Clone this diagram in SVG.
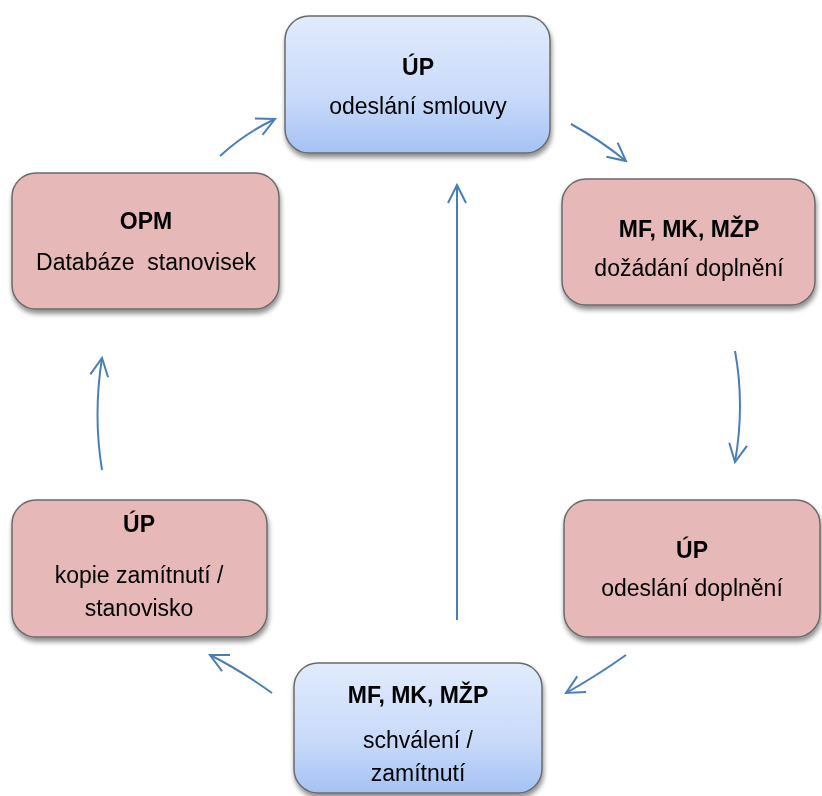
<svg xmlns="http://www.w3.org/2000/svg" width="822" height="796" viewBox="0 0 822 796">
<defs>
<linearGradient id="blueGrad" x1="0" y1="0" x2="0" y2="1">
<stop offset="0" stop-color="#e1ebfc"/>
<stop offset="0.6" stop-color="#c8daf9"/>
<stop offset="1" stop-color="#a5c2f3"/>
</linearGradient>
<filter id="shadow" x="-10%" y="-10%" width="125%" height="130%">
<feGaussianBlur in="SourceAlpha" stdDeviation="2.5"/>
<feOffset dx="1" dy="4" result="b"/>
<feComponentTransfer><feFuncA type="linear" slope="0.45"/></feComponentTransfer>
<feMerge><feMergeNode/><feMergeNode in="SourceGraphic"/></feMerge>
</filter>
<marker id="arrow" viewBox="0 0 22 22" refX="20" refY="11" markerWidth="22" markerHeight="22" markerUnits="userSpaceOnUse" orient="auto">
<path d="M2,2 L20,11 L2,20" fill="none" stroke="#4a7ebb" stroke-width="2"/>
</marker>
</defs>
<style>
.pink{fill:#e6b8b7;stroke:#6b6b6b;stroke-width:1.5}
.blue{fill:url(#blueGrad);stroke:#6b6b6b;stroke-width:1.5}
text{font-family:"Liberation Sans",Arial,sans-serif;font-size:23px;fill:#000;text-anchor:middle}
.b{font-weight:bold}
.conn path{fill:none;stroke:#4a7ebb;stroke-width:2;marker-end:url(#arrow)}
</style>
<rect width="822" height="796" fill="#ffffff"/>
<g id="n-top" filter="url(#shadow)">
<rect class="blue" x="285" y="16" width="265" height="137" rx="24"/>
<text class="b" x="418" y="75">ÚP</text>
<text x="418" y="114">odeslání smlouvy</text>
</g>
<g id="n-opm" filter="url(#shadow)">
<rect class="pink" x="12" y="173" width="267" height="136" rx="24"/>
<text class="b" x="146" y="229">OPM</text>
<text x="146" y="270" xml:space="preserve">Databáze  stanovisek</text>
</g>
<g id="n-mf-top" filter="url(#shadow)">
<rect class="pink" x="562" y="179" width="253" height="126" rx="24"/>
<text class="b" x="689" y="237">MF, MK, MŽP</text>
<text x="689" y="276">dožádání doplnění</text>
</g>
<g id="n-up-right" filter="url(#shadow)">
<rect class="pink" x="564" y="500" width="256" height="137" rx="24"/>
<text class="b" x="692" y="558">ÚP</text>
<text x="692" y="596">odeslání doplnění</text>
</g>
<g id="n-up-left" filter="url(#shadow)">
<rect class="pink" x="12" y="500" width="255" height="137" rx="24"/>
<text class="b" x="139" y="532">ÚP</text>
<text x="139" y="583">kopie zamítnutí /</text>
<text x="139" y="616">stanovisko</text>
</g>
<g id="n-mf-bottom" filter="url(#shadow)">
<rect class="blue" x="294" y="663" width="248" height="130" rx="24"/>
<text class="b" x="418" y="703">MF, MK, MŽP</text>
<text x="418" y="748">schválení /</text>
<text x="418" y="781">zamítnutí</text>
</g>
<g id="connectors" class="conn">
<path d="M220,156 Q245,133 275,119"/>
<path d="M571,124 Q600,140 626,161"/>
<path d="M735,351 Q745,405 735,462"/>
<path d="M626,655 Q598,675 566,693"/>
<path d="M272,693 Q240,670 210,655"/>
<path d="M102,470 Q93,415 102,358"/>
<path d="M457,620 L457,185"/>
</g>
</svg>
